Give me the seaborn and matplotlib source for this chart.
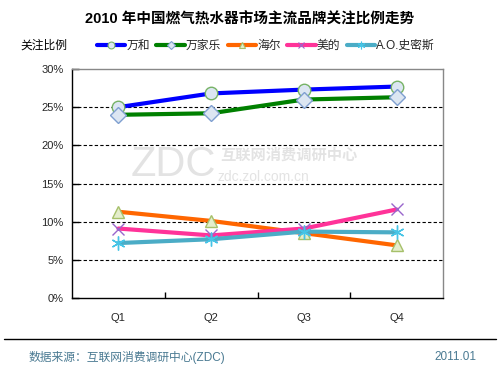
import pandas as pd
import seaborn as sns
import matplotlib.pyplot as plt
from matplotlib.lines import Line2D

# dados (% de atencao por trimestre)
trimestres = ['Q1', 'Q2', 'Q3', 'Q4']
marcas = ['万和', '万家乐', '海尔', '美的', 'A.O.史密斯']
wanhe = [25.0, 26.8, 27.3, 27.7]
wanjiale = [24.0, 24.2, 26.0, 26.3]
haier = [11.3, 10.1, 8.5, 6.9]
meidi = [9.1, 8.2, 9.1, 11.6]
ao_smith = [7.2, 7.7, 8.7, 8.6]
yticks = [0, 5, 10, 15, 20, 25, 30]

valores = [wanhe, wanjiale, haier, meidi, ao_smith]
df = pd.DataFrame({
    'trimestre': trimestres * len(marcas),
    'marca': [m for m in marcas for _ in trimestres],
    'valor': [v for serie in valores for v in serie],
})

sns.set_theme(style='white')
plt.rcParams['font.family'] = ['Liberation Sans', 'Noto Sans CJK SC', 'DejaVu Sans']

# estilo de cada serie: cor da linha, marcador, face, borda
estilos = {
    '万和': dict(color='#0000ff', marker='o', markersize=9, markerfacecolor='#dce6f2', markeredgecolor='#77b366'),
    '万家乐': dict(color='#008000', marker='D', markersize=8, markerfacecolor='#dce6f2', markeredgecolor='#7f9fd0'),
    '海尔': dict(color='#ff6600', marker='^', markersize=9, markerfacecolor='#e4edcc', markeredgecolor='#a6c06a'),
    '美的': dict(color='#ff3399', marker='x', markersize=8, markerfacecolor='none', markeredgecolor='#9966cc'),
    'A.O.史密斯': dict(color='#4bacc6', marker=(6, 2, 0), markersize=10, markerfacecolor='none', markeredgecolor='#45c4e6'),
}

fig = plt.figure(figsize=(5, 3.75), dpi=100, facecolor='white')
ax = fig.add_axes([0.144, 0.2053, 0.742, 0.6107])

for marca in marcas:
    st = estilos[marca]
    sns.lineplot(data=df[df['marca'] == marca], x='trimestre', y='valor', ax=ax,
                 linewidth=3, markeredgewidth=1, label=marca, legend=False, **st)

ax.set_xlim(-0.5, 3.5)
ax.set_ylim(0, 30)
ax.set_yticks(yticks)
ax.set_yticklabels([f'{t}%' for t in yticks], fontsize=8)
ax.set_xticks(range(len(trimestres)))
ax.set_xticklabels(trimestres, fontsize=8)
ax.set_xticks([0.5, 1.5, 2.5], minor=True)
ax.tick_params(axis='x', which='major', length=0, pad=11)
ax.tick_params(axis='x', which='minor', direction='in', length=4, width=1, color='black', bottom=True)
ax.tick_params(axis='y', direction='in', length=5, width=1, color='black', left=True, pad=6)
ax.set_xlabel('')
ax.set_ylabel('')

for y in yticks[1:-1]:
    ax.axhline(y, color='black', linestyle=(0, (3, 2)), linewidth=0.8, zorder=0)

for lado in ['top', 'right']:
    ax.spines[lado].set_color('#888888')
    ax.spines[lado].set_linewidth(1)
for lado in ['left', 'bottom']:
    ax.spines[lado].set_color('black')
    ax.spines[lado].set_linewidth(1)

# marca d'agua
fig.text(0.262, 0.53, 'ZDC', fontsize=30, color='#e3e3e3', zorder=0)
fig.text(0.44, 0.575, '互联网消费调研中心', fontsize=11, color='#e3e3e3', fontweight='bold', zorder=0,
         family=['Noto Sans CJK SC'])
fig.text(0.436, 0.517, 'zdc.zol.com.cn', fontsize=10, color='#e3e3e3', zorder=0)

# legenda em uma linha acima do grafico
handles = []
for marca in marcas:
    st = estilos[marca]
    handles.append(Line2D([], [], linewidth=3, markeredgewidth=0.8, color=st['color'], marker=st['marker'],
                          markersize=st['markersize'] * 0.55, markerfacecolor=st['markerfacecolor'],
                          markeredgecolor=st['markeredgecolor']))
fig.legend(handles, marcas, loc='center left', bbox_to_anchor=(0.182, 0.877), ncol=5, frameon=False,
           fontsize=8.5, handlelength=2.4, handletextpad=0.1, columnspacing=0.55, borderpad=0)

fig.text(0.5, 0.947, '2010 年中国燃气热水器市场主流品牌关注比例走势', ha='center', va='center',
         fontsize=10.5, fontweight='bold', color='black')
fig.text(0.04, 0.877, '关注比例', ha='left', va='center', fontsize=8.5, color='black')

fig.add_artist(Line2D([0.008, 0.992], [0.096, 0.096], color='black', linewidth=1))
fig.text(0.058, 0.048, '数据来源：互联网消费调研中心(ZDC)', ha='left', va='center', fontsize=8.5, color='#4a7a92')
fig.text(0.953, 0.048, '2011.01', ha='right', va='center', fontsize=8.5, color='#4a7a92')

fig.savefig('out.png', dpi=100, facecolor='white')
plt.close(fig)
